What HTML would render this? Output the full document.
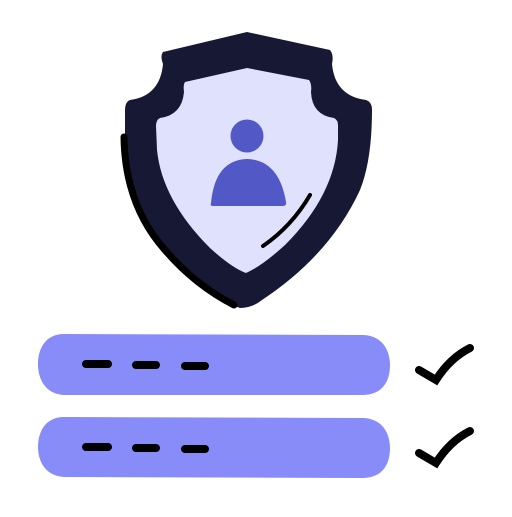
<!DOCTYPE html>
<html><head><style>html,body{margin:0;padding:0;background:#fff}</style></head>
<body>
<svg width="512" height="512" viewBox="0 0 512 512" xmlns="http://www.w3.org/2000/svg">
<path d="M247,32 L163,52 Q160,56 163,64 Q160,96 130,100 Q125,102 125,110 L125,140 Q128,220 200,283 Q225,303 240,308 Q252,308 262,300 Q330,255 360,190 Q372,160 372,110 Q372,102 366,100 Q335,96 332,64 Q334,55 330,50 Z" fill="#171934"/>
<path d="M247,68 L185,82 Q183,85 184,92 Q182,115 160,118 Q156,120 156,126 L157,150 Q162,200 210,248 Q232,268 246,273 Q262,266 285,245 Q335,195 338,140 L338,125 Q338,120 334,118 Q312,115 311,92 Q312,84 309,80 Z" fill="#e0e1fc"/>
<circle cx="247" cy="136" r="16.5" fill="#5259c6"/>
<path d="M211,203 Q215,160 247,159 Q279,160 286,202 Q287,206 282,206 L213,206 Q210,206 211,203 Z" fill="#5259c6"/>
<path d="M310,195 Q292,226 263,246" fill="none" stroke="#000" stroke-width="4" stroke-linecap="round"/>
<path d="M124,137 Q125,205 165,250 Q195,285 234,305" fill="none" stroke="#000" stroke-width="7" stroke-linecap="round"/>
<path d="M64,334 L362,335 C382,335 390,350 390,365 C390,382 382,395 362,395 L64,395 C46,394 38,380 38,364 C38,348 46,334 64,334 Z" fill="#878cf8"/>
<path d="M64,417 L362,418 C382,418 390,433 390,448 C390,465 382,478 362,478 L64,477 C46,476 38,462 38,447 C38,431 46,417 64,417 Z" fill="#878cf8"/>
<g stroke="#000" stroke-width="8" stroke-linecap="round" fill="none">
<path d="M86,364 L108,364 M136,365 L156,365 M185,366 L205,366"/>
<path d="M86,447 L108,447 M136,448 L156,448 M185,449 L205,449"/>
<path d="M419,370 L436,380 Q450,358 470,348"/>
<path d="M419,453 L436,463 Q450,441 470,431"/>
</g>
</svg>
</body></html>
